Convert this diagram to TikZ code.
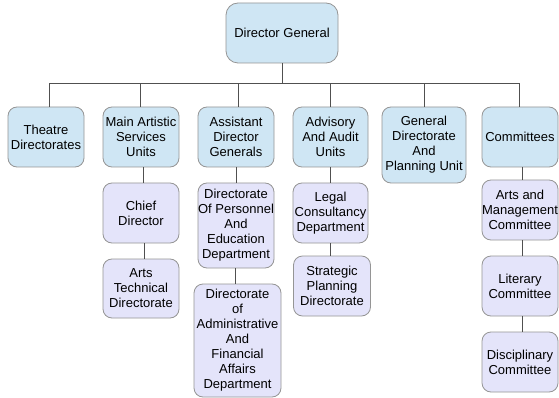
\documentclass[tikz,border=0pt]{standalone}
\usepackage{fontspec}
\setmainfont{Liberation Sans}
\definecolor{topblue}{HTML}{CFE6F4}
\definecolor{lav}{HTML}{E4E4FA}
\definecolor{edge}{HTML}{959595}
\definecolor{wire}{HTML}{505050}
\begin{document}
\begin{tikzpicture}[x=1pt,y=-1pt,
  box/.style={draw=edge, line width=0.8pt, rounded corners=9pt, align=center,
    inner sep=0pt, font=\fontsize{13}{15}\selectfont, text=black},
  bluebox/.style={box, fill=topblue},
  lavbox/.style={box, fill=lav},
  wirestyle/.style={draw=wire, line width=0.9pt}]
\useasboundingbox[fill=white] (0,0) rectangle (559,398);
\node[bluebox, rounded corners=12pt, minimum width=112pt, minimum height=60pt] (dg) at (282,33) {Director General};
\node[bluebox, minimum width=76pt, minimum height=60pt] (th) at (46,137) {Theatre\\Directorates};
\node[bluebox, minimum width=76pt, minimum height=60pt] (ma) at (141,137) {Main Artistic\\Services\\Units};
\node[bluebox, minimum width=76pt, minimum height=60pt] (as) at (236,137) {Assistant\\Director\\Generals};
\node[bluebox, minimum width=75pt, minimum height=60pt] (ad) at (330.5,137) {Advisory\\And Audit\\Units};
\node[bluebox, minimum width=84pt, minimum height=76pt] (gd) at (424,145) {General\\Directorate\\And\\Planning Unit};
\node[bluebox, minimum width=76pt, minimum height=60pt] (co) at (520,137) {Committees};
\node[lavbox, minimum width=76pt, minimum height=60pt] (cd) at (141,213) {Chief\\Director};
\node[lavbox, minimum width=76pt, minimum height=59pt] (at) at (141,288.5) {Arts\\Technical\\Directorate};
\node[lavbox, minimum width=76pt, minimum height=85pt] (dp) at (236,225.5) {Directorate\\Of Personnel\\And\\Education\\Department};
\node[lavbox, minimum width=87pt, minimum height=113pt] (da) at (237.5,340.5) {Directorate\\of\\Administrative\\And\\Financial\\Affairs\\Department};
\node[lavbox, minimum width=75pt, minimum height=60pt] (lc) at (330.5,213) {Legal\\Consultancy\\Department};
\node[lavbox, minimum width=77pt, minimum height=60pt] (sp) at (332,286) {Strategic\\Planning\\Directorate};
\node[lavbox, minimum width=76pt, minimum height=60pt] (am) at (520,210) {Arts and\\Management\\Committee};
\node[lavbox, minimum width=76pt, minimum height=60pt] (lt) at (520,286) {Literary\\Committee};
\node[lavbox, minimum width=76pt, minimum height=60pt] (dc) at (520,362) {Disciplinary\\Committee};
\coordinate (bus) at (282,83);
\draw[wirestyle] (dg.south) -- (bus);
\draw[wirestyle] ([xshift=3pt]bus -| th.north) -- ([xshift=-1pt]bus -| co.north);
\draw[wirestyle] ([xshift=3pt]th.north) -- ([xshift=3pt]th.north |- bus);
\draw[wirestyle] ([xshift=-1pt]ma.north) -- ([xshift=-1pt]ma.north |- bus);
\draw[wirestyle] ([xshift=2pt]as.north) -- ([xshift=2pt]as.north |- bus);
\draw[wirestyle] (ad.north) -- (ad.north |- bus);
\draw[wirestyle] (gd.north) -- (gd.north |- bus);
\draw[wirestyle] ([xshift=-1pt]co.north) -- ([xshift=-1pt]co.north |- bus);
\draw[wirestyle] ([xshift=2pt]ma.south) -- ([xshift=2pt]cd.north);
\draw[wirestyle] ([xshift=3pt]cd.south) -- ([xshift=3pt]at.north);
\draw[wirestyle] (as.south) -- (as.south |- dp.north);
\draw[wirestyle] ([xshift=-1pt]dp.south) -- ([xshift=-1pt]dp.south |- da.north);
\draw[wirestyle] (ad.south) -- (lc.north);
\draw[wirestyle] (lc.south) -- (lc.south |- sp.north);
\draw[wirestyle] ([xshift=2pt]co.south) -- ([xshift=2pt]am.north);
\draw[wirestyle] ([xshift=2pt]am.south) -- ([xshift=2pt]lt.north);
\draw[wirestyle] ([xshift=2pt]lt.south) -- ([xshift=2pt]dc.north);
\end{tikzpicture}
\end{document}
